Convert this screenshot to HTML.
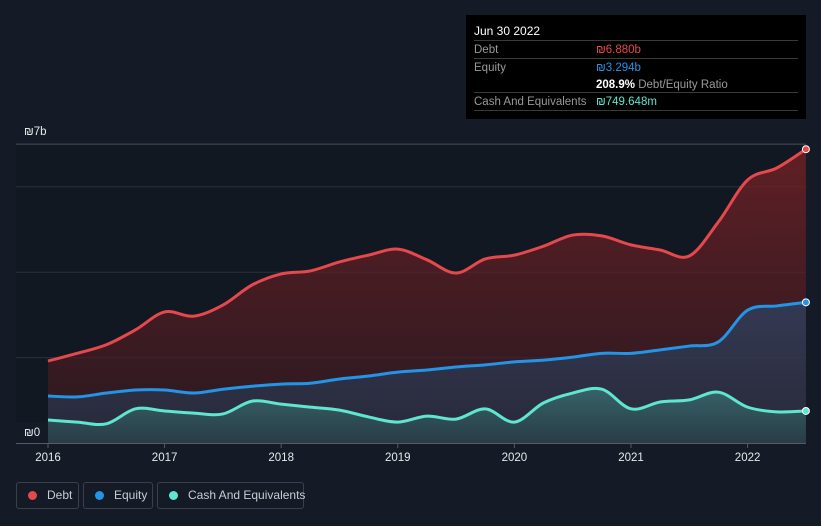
<!DOCTYPE html>
<html><head><meta charset="utf-8"><style>
body{margin:0;background:#151b26;font-family:"Liberation Sans",sans-serif;}
#wrap{position:relative;width:821px;height:526px;overflow:hidden;background:#151b26;}
.tt{position:absolute;left:466px;top:15px;width:340px;height:104px;background:#000;color:#fff;font-size:11.5px;}
.tt .r{position:absolute;left:8px;right:8px;border-top:1px solid #3a3a3a;height:18px;line-height:18px;}
.lg{position:absolute;top:482px;height:27px;border:1px solid #3b414c;border-radius:3px;color:#c8ccd2;font-size:12px;line-height:25px;box-sizing:border-box;white-space:nowrap;}
.dot{display:inline-block;width:9px;height:9px;border-radius:50%;margin:0 10px 0 11px;vertical-align:-1px;}
</style></head><body>
<div id="wrap">
<svg id="svg" width="821" height="526" style="position:absolute;left:0;top:0"></svg>
<div class="tt">
<div style="position:absolute;left:8px;top:9px;font-size:12px">Jun 30 2022</div>
<div class="r" style="top:25px"><span style="color:#999">Debt</span><span style="position:absolute;left:122px;color:#e5484d">₪6.880b</span></div>
<div class="r" style="top:43px"><span style="color:#999">Equity</span><span style="position:absolute;left:122px;color:#2394e6">₪3.294b</span></div>
<div style="position:absolute;left:130px;top:61px;line-height:18px"><b>208.9%</b> <span style="color:#999">Debt/Equity Ratio</span></div>
<div class="r" style="top:77px"><span style="color:#999">Cash And Equivalents</span><span style="position:absolute;left:122px;color:#5ee6d0">₪749.648m</span></div>
<div class="r" style="top:95px;height:0"></div>
</div>
<div class="lg" style="left:16px;width:63px"><span class="dot" style="background:#e5484d"></span>Debt</div>
<div class="lg" style="left:83px;width:70px"><span class="dot" style="background:#2394e6"></span>Equity</div>
<div class="lg" style="left:157px;width:147px"><span class="dot" style="background:#5ee6d0"></span>Cash And Equivalents</div>
</div>
<script>
const years=[2016,2017,2018,2019,2020,2021,2022];
const debt=[1.92,2.1,2.3,2.65,3.07,2.97,3.23,3.7,3.96,4.03,4.24,4.4,4.54,4.29,3.98,4.31,4.4,4.61,4.87,4.85,4.64,4.52,4.38,5.18,6.16,6.44,6.88];
const equity=[1.10,1.08,1.17,1.24,1.24,1.17,1.26,1.33,1.38,1.40,1.50,1.57,1.66,1.71,1.78,1.83,1.90,1.94,2.01,2.10,2.10,2.18,2.27,2.37,3.11,3.21,3.294];
const cash=[0.54,0.49,0.45,0.80,0.75,0.70,0.68,0.98,0.91,0.84,0.77,0.61,0.49,0.63,0.56,0.80,0.49,0.94,1.17,1.26,0.80,0.96,1.01,1.19,0.84,0.73,0.75];
const yTicks=[0,2,4,6,7];
const NS="http://www.w3.org/2000/svg",svg=document.getElementById('svg');
const X=t=>48+(t-2016)*116.6, Y=v=>443-v*42.7;
function mk(tag,a,name){const e=document.createElementNS(NS,tag);for(const k in a)e.setAttribute(k,a[k]);


svg.appendChild(e);return e;}
const defs=mk('defs',{},'defs');
defs.innerHTML='<linearGradient id="gd" x1="0" y1="0" x2="0" y2="1"><stop offset="0" stop-color="#7a2226" stop-opacity=".75"/><stop offset="1" stop-color="#3a1a20" stop-opacity=".6"/></linearGradient><linearGradient id="ge" x1="0" y1="0" x2="0" y2="1"><stop offset="0" stop-color="#2e4668" stop-opacity=".7"/><stop offset="1" stop-color="#26344a" stop-opacity=".6"/></linearGradient><linearGradient id="gc" x1="0" y1="0" x2="0" y2="1"><stop offset="0" stop-color="#3c7a78" stop-opacity=".7"/><stop offset="1" stop-color="#2a4a52" stop-opacity=".6"/></linearGradient>';
mk('rect',{x:16,y:144,width:790,height:299,fill:'#121821'},'plot-bg');
yTicks.forEach(v=>{if(v>0)mk('line',{x1:16,x2:806,y1:Y(v),y2:Y(v),stroke:v==7?'#4a505a':'#2a303a','stroke-width':1},'gridline');});
function pts(arr){return arr.map((v,i)=>[X(2016+i*0.25),Y(v)]);}
function curve(p){let d='M'+p[0][0]+','+p[0][1];for(let i=0;i<p.length-1;i++){const p0=p[i-1]||p[i],p1=p[i],p2=p[i+1],p3=p[i+2]||p2;
d+=' C'+(p1[0]+(p2[0]-p0[0])/6)+','+(p1[1]+(p2[1]-p0[1])/6)+' '+(p2[0]-(p3[0]-p1[0])/6)+','+(p2[1]-(p3[1]-p1[1])/6)+' '+p2[0]+','+p2[1];}return d;}
[[debt,'#e5484d','gd','debt'],[equity,'#2394e6','ge','equity'],[cash,'#5ee6d0','gc','cash']].forEach(([a,c,g,n])=>{
const p=pts(a),d=curve(p),l=p[p.length-1];
mk('path',{d:d+' L'+l[0]+','+Y(0)+' L'+p[0][0]+','+Y(0)+'Z',fill:'url(#'+g+')'},n+'-area');
mk('path',{d:d,fill:'none',stroke:c,'stroke-width':3},n+'-line');
mk('circle',{cx:l[0],cy:l[1],r:3.5,fill:c,stroke:'#fff','stroke-width':1},n+'-end-marker');});
mk('line',{x1:16,x2:806,y1:443.5,y2:443.5,stroke:'#555b64'},'x-axis');
mk('rect',{x:16,y:422,width:32,height:21,fill:'#151b26'},'y-label-bg');
const lab=(t,x,y,n,a)=>{const e=mk('text',{x:x,y:y,fill:'#e6e8eb','font-size':11.5,'text-anchor':a||'start','font-family':'Liberation Sans'},n);e.textContent=t;};
lab('₪7b',24,135,'y-tick-label');lab('₪0',24,436,'y-tick-label');
years.forEach(y=>{mk('line',{x1:X(y),x2:X(y),y1:443,y2:448,stroke:'#555b64'},'x-tick');lab(String(y),X(y),461,'x-tick-label','middle');});
</script>
</body></html>
